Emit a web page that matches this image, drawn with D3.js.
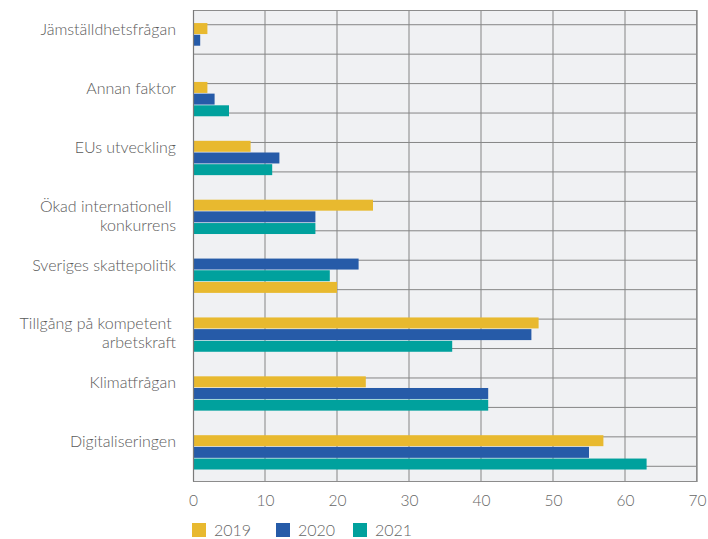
<!DOCTYPE html>
<html>
<head>
<meta charset="utf-8">
<script src="https://cdn.jsdelivr.net/npm/d3@7"></script>
<style>
  html, body { margin: 0; padding: 0; background: #fff; }
  svg { display: block; font-family: Lato, "Open Sans", sans-serif; }
</style>
</head>
<body>
<svg id="chart" width="708" height="539"></svg>
<script>
// Factors, top to bottom (a line break in a label is marked with "\n")
const categories = [
  "Jämställdhetsfrågan",
  "Annan faktor",
  "EUs utveckling",
  "Ökad internationell \nkonkurrens",
  "Sveriges skattepolitik",
  "Tillgång på kompetent \narbetskraft",
  "Klimatfrågan",
  "Digitaliseringen"
];
const years = ["2019", "2020", "2021"];
const values2019 = [2, 2, 8, 25, 20, 48, 24, 57];
const values2020 = [1, 3, 12, 17, 23, 47, 41, 55];
const values2021 = [0, 5, 11, 17, 19, 36, 41, 63];
// Series order of the bars inside each group
const barOrder = [
  ["2019", "2020", "2021"],
  ["2019", "2020", "2021"],
  ["2019", "2020", "2021"],
  ["2019", "2020", "2021"],
  ["2020", "2021", "2019"],
  ["2019", "2020", "2021"],
  ["2019", "2020", "2021"],
  ["2019", "2020", "2021"]
];
const xTicks = [0, 10, 20, 30, 40, 50, 60, 70];

const colors = { "2019": "#E8B92F", "2020": "#265BA8", "2021": "#00A19D" };
const seriesValues = { "2019": values2019, "2020": values2020, "2021": values2021 };

const svg = d3.select("#chart");
const margin = { top: 10, right: 11, bottom: 58, left: 193 };
const W = 708, H = 539;
const x0 = margin.left, x1 = W - margin.right;
const y0 = margin.top, y1 = H - margin.bottom;

const x = d3.scaleLinear().domain([0, 70]).range([x0, x1]);
const y = d3.scaleBand().domain(categories).range([y0, y1]).padding(0);
const bw = y.bandwidth();
const ySlot = d3.scaleBand().domain([0, 1, 2])
  .range([bw * 0.222, bw * 0.805]).paddingInner(0.06);

// Plot background
svg.append("rect")
  .attr("x", x0).attr("y", y0)
  .attr("width", x1 - x0).attr("height", y1 - y0)
  .attr("fill", "#F0F1F3");

// Horizontal rules, two per group
const hLines = d3.range(categories.length * 2).map(k => y0 + (k + 0.5) * bw / 2);
svg.append("g").selectAll("line").data(hLines).join("line")
  .attr("x1", x0).attr("x2", x1)
  .attr("y1", d => d).attr("y2", d => d)
  .attr("stroke", "#858585").attr("stroke-width", 1);

// Vertical gridlines
svg.append("g").selectAll("line").data(xTicks.slice(1, -1)).join("line")
  .attr("x1", d => x(d)).attr("x2", d => x(d))
  .attr("y1", y0).attr("y2", y1)
  .attr("stroke", "#858585").attr("stroke-width", 1);

// Bars
const bars = [];
categories.forEach((c, i) => {
  barOrder[i].forEach((yr, slot) => {
    const v = seriesValues[yr][i];
    if (v > 0) bars.push({ c, yr, v, slot });
  });
});
svg.append("g").selectAll("rect").data(bars).join("rect")
  .attr("x", x(0))
  .attr("y", d => y(d.c) + ySlot(d.slot))
  .attr("width", d => x(d.v) - x(0))
  .attr("height", ySlot.bandwidth())
  .attr("fill", d => colors[d.yr]);

// Frame
svg.append("rect")
  .attr("x", x0 + 0.5).attr("y", y0 + 0.5)
  .attr("width", x1 - x0 - 1).attr("height", y1 - y0)
  .attr("fill", "none").attr("stroke", "#8C8C8C").attr("stroke-width", 1);
svg.append("line")
  .attr("x1", x1 + 0.5).attr("x2", x1 + 0.5)
  .attr("y1", y0).attr("y2", y1 + 1)
  .attr("stroke", "#B0B0B0").attr("stroke-width", 1);
svg.append("line")
  .attr("x1", x0 + 0.5).attr("x2", x0 + 0.5)
  .attr("y1", y0).attr("y2", y1 + 0.5)
  .attr("stroke", "#7A7A7A").attr("stroke-width", 1.2);

// X axis tick labels
const xAxis = d3.axisBottom(x).tickValues(xTicks).tickSize(0).tickPadding(14);
const gx = svg.append("g").attr("transform", `translate(0,${y1})`).call(xAxis);
gx.select(".domain").remove();
gx.selectAll("text")
  .attr("font-family", "Lato, sans-serif")
  .attr("font-size", 15.5)
  .attr("font-weight", 300)
  .attr("fill", "#666666");

// Category labels
const labels = svg.append("g").selectAll("text").data(categories).join("text")
  .attr("text-anchor", "end")
  .attr("font-size", 16)
  .attr("font-weight", 300)
  .attr("fill", "#5A5A5A")
  .style("white-space", "pre")
  .attr("y", d => y(d) + bw / 2 - 10);
labels.each(function (d) {
  const t = d3.select(this);
  d.split("\n").forEach((line, j) => {
    t.append("tspan")
      .attr("x", 176)
      .attr("dy", j === 0 ? "0.35em" : 19)
      .text(line);
  });
});

// Legend
const legendX = [192, 276, 353];
const lg = svg.append("g").selectAll("g").data(years).join("g")
  .attr("transform", (d, i) => `translate(${legendX[i]},523)`);
lg.append("rect").attr("width", 14).attr("height", 14).attr("fill", d => colors[d]);
lg.append("text")
  .attr("x", 22).attr("y", 7).attr("dy", "0.36em")
  .attr("font-size", 16).attr("font-weight", 300).attr("fill", "#666666")
  .text(d => d);
</script>
</body>
</html>
